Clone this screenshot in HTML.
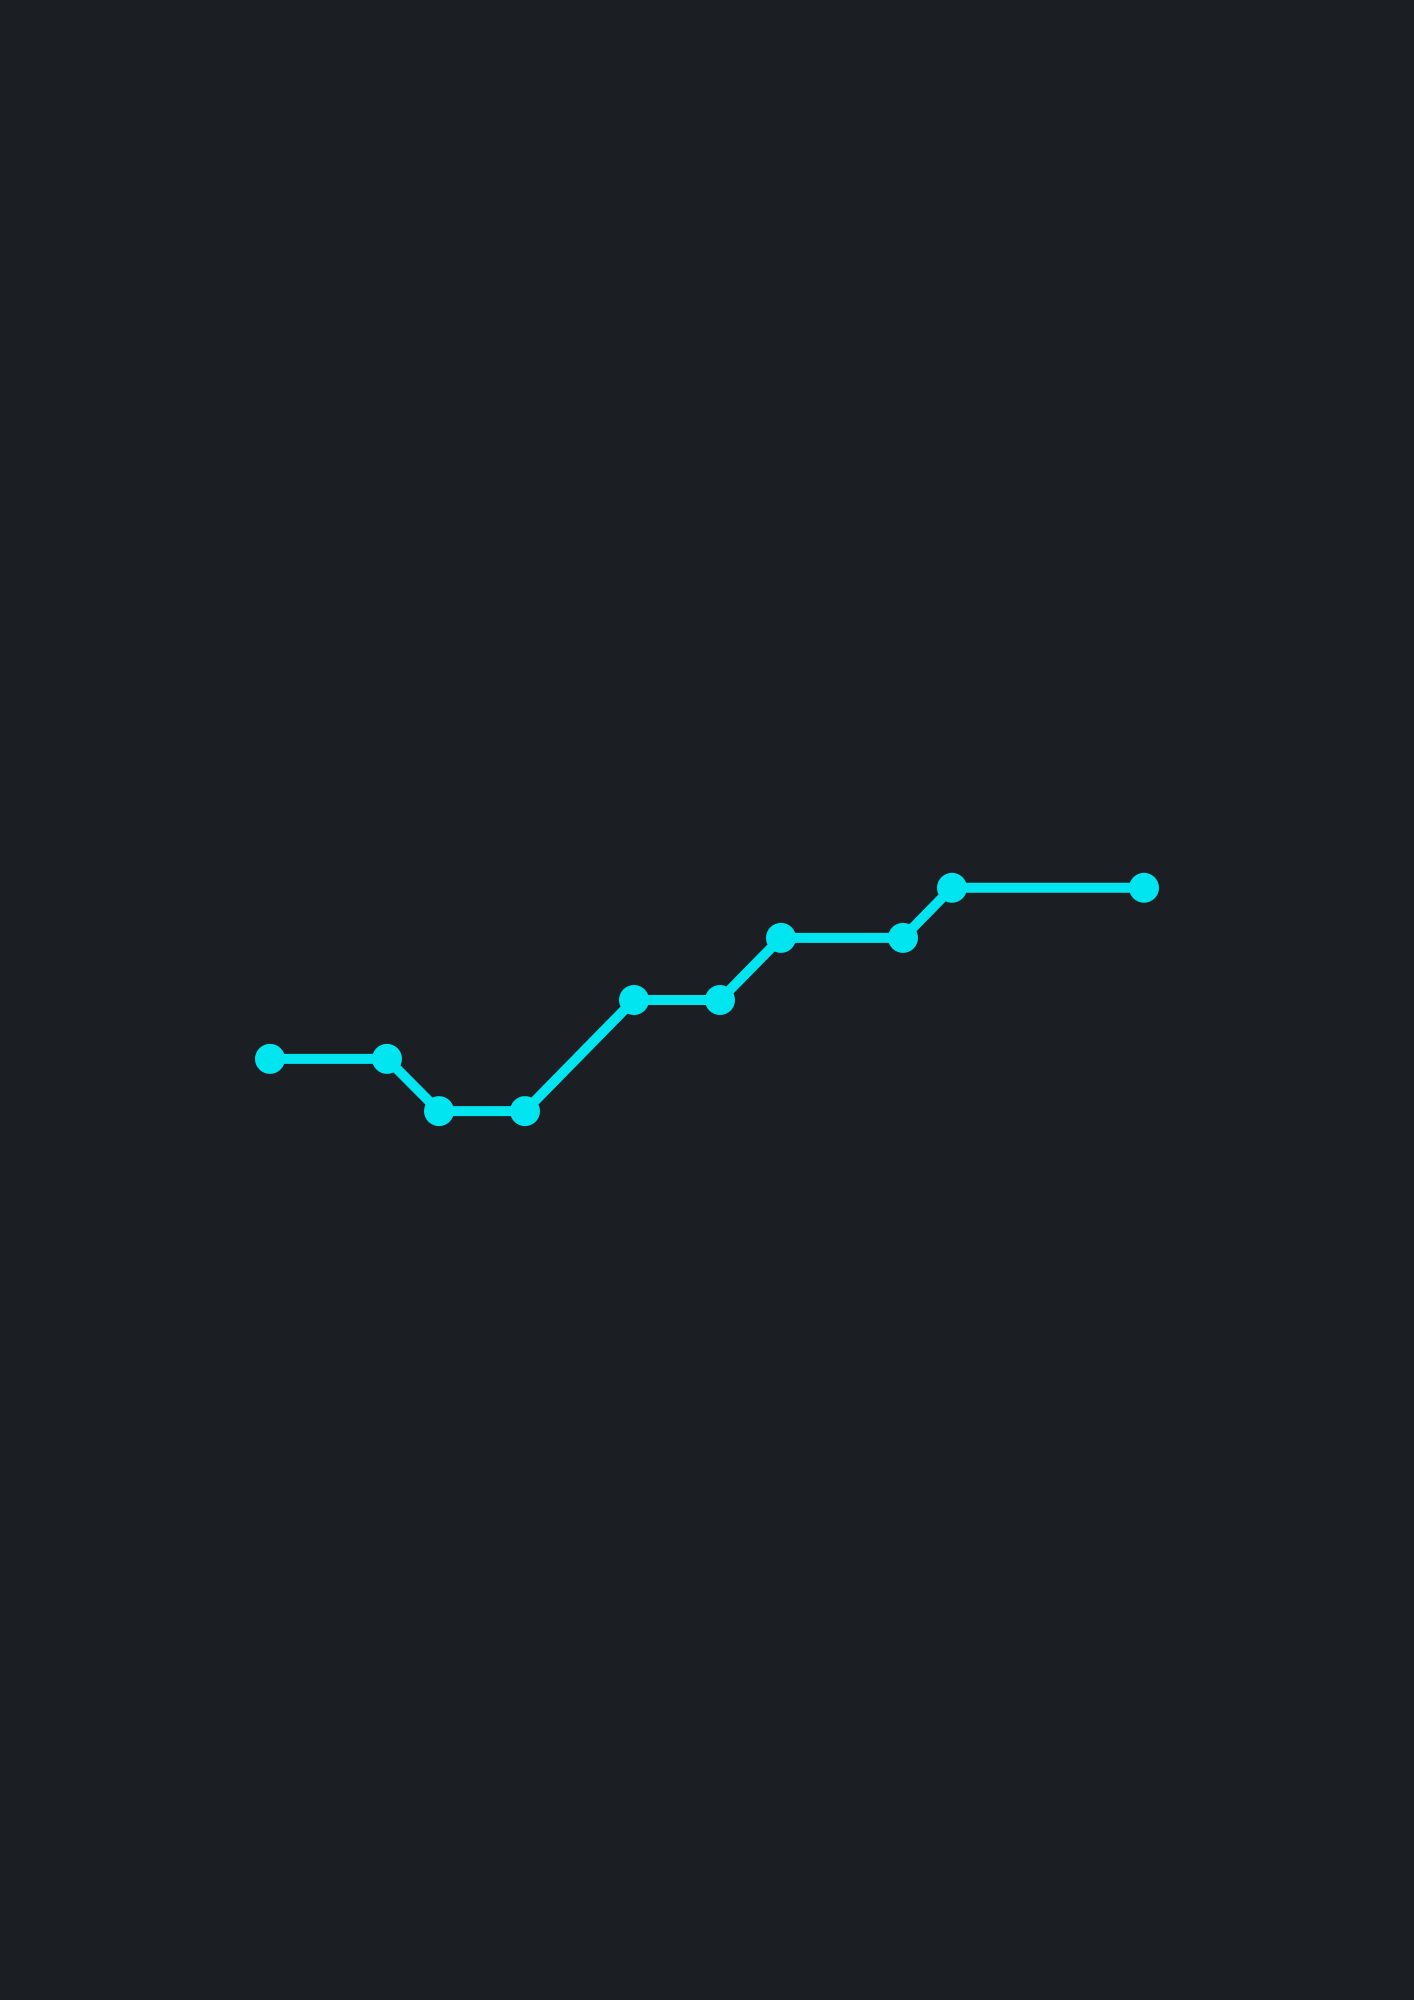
<!DOCTYPE html>
<html><head><meta charset="utf-8"><style>
html,body{margin:0;padding:0;background:#1b1e23;}
svg{display:block;}
</style></head><body>
<svg id="chart" width="1414" height="2000" viewBox="0 0 1414 2000">
<rect x="0" y="0" width="1414" height="2000" fill="#1b1e23"/>
<g id="marks"></g>
</svg>
<script>
const xValues = [0, 11.7, 16.9, 25.5, 36.4, 45, 51.1, 63.3, 68.2, 87.4];
const yValues = [1.93, 1.93, 0.98, 0.98, 3.0, 3.0, 4.13, 4.13, 5.04, 5.04];
function xScale(v){ return 270 + v * 10; }
function yScale(v){ return 1165 - v * 55; }
const ns = 'http://www.w3.org/2000/svg';
const g = document.getElementById('marks');
const pts = xValues.map((x,i)=>xScale(x)+','+yScale(yValues[i])).join(' ');
const line = document.createElementNS(ns,'polyline');


line.setAttribute('points', pts);
line.setAttribute('fill','none');
line.setAttribute('stroke','#00e5f0');
line.setAttribute('stroke-width','10');
g.appendChild(line);
xValues.forEach((x,i)=>{
  const c = document.createElementNS(ns,'circle');
  
  
  c.setAttribute('cx', xScale(x));
  c.setAttribute('cy', yScale(yValues[i]));
  c.setAttribute('r', 15);
  c.setAttribute('fill','#00e5f0');
  g.appendChild(c);
});
</script>
</body></html>
